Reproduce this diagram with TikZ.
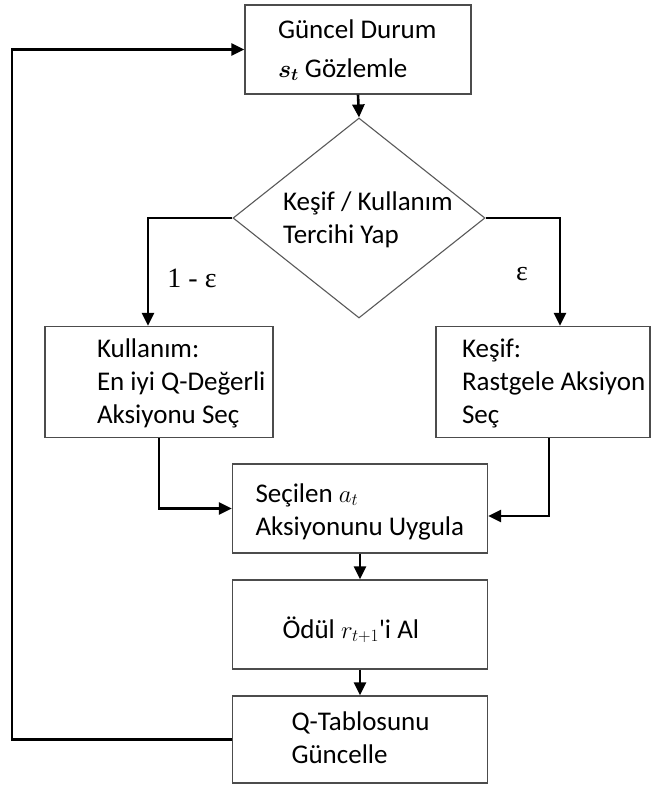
\documentclass[tikz,border=0pt]{standalone}
\usepackage{fontspec}
\setmainfont{Carlito}[Ligatures=TeXOff]
\newfontfamily\grkfont{Liberation Serif}
\usetikzlibrary{arrows.meta,shapes.geometric}

\tikzset{
  box/.style={rectangle, draw=black!70, line width=1.3pt, inner sep=0pt,
    align=left, font=\fontsize{27}{33}\selectfont},
  decide/.style={diamond, draw=black!65, line width=1.1pt, inner sep=0pt,
    aspect=1.26, align=left, font=\fontsize{27}{33}\selectfont},
  lpad/.style={execute at begin node={\leftskip=#1\rightskip=-60pt plus 1fil%
    \spaceskip=0pt\xspaceskip=0pt\relax}},
  textbox/.style 2 args={text height=#1, text depth=#2},
  flow/.style={->, line width=2.6pt},
  prob/.style={inner sep=0pt, font=\grkfont\fontsize{28}{30}\selectfont}
}

\begin{document}
\begin{tikzpicture}[x=1pt,y=-1pt,>={Triangle[length=13pt,width=12pt]}]
\useasboundingbox (0,0) rectangle (653,785);

% --- Kutular ---
\node[box, text width=226pt, minimum height=89pt, lpad=33pt, textbox={20pt}{43pt}] (observe) at (358,49.5)
  {Güncel Durum\\[6pt]{\boldmath$s_t$} Gözlemle};
\node[decide, text width=172pt, minimum width=252pt, minimum height=200pt, lpad=10pt, textbox={20pt}{36pt}]
  (choose) at (359,218) {Keşif / Kullanım\\Tercihi Yap};
\node[box, text width=228pt, minimum height=111pt, lpad=52pt, textbox={20pt}{70pt}] (exploit) at (159,382)
  {Kullanım:\\En iyi Q-Değerli\\Aksiyonu Seç};
\node[box, text width=214pt, minimum height=111pt, lpad=26pt, textbox={20pt}{70pt}] (explore) at (543,382)
  {Keşif:\\Rastgele Aksiyon\\Seç};
\node[box, text width=255pt, minimum height=89pt, lpad=23pt, textbox={20pt}{33pt}] (apply) at (360,508.5)
  {Seçilen $a_t$\\Aksiyonunu Uygula};
\node[box, text width=255pt, minimum height=89pt, lpad=50pt, textbox={27pt}{0pt}] (reward) at (360,624.5)
  {Ödül $r_{t+1}$'i Al};
\node[box, text width=255pt, minimum height=87pt, lpad=59pt, textbox={20pt}{39pt}] (update) at (360,739.5)
  {Q-Tablosunu\\Güncelle};

% --- Olasiliklar ---
\node[prob] (pexploit) at (192,278) {1 - ε};
\node[prob] (pexplore) at (522,274) {ε};

% --- Oklar ---
\draw[flow] (observe.south) -- (choose.north);
\draw[flow] (choose.west) -| ([xshift=-11pt]exploit.north);
\draw[flow] (choose.east) -| ([xshift=17pt]explore.north);
\draw[flow] (exploit.south) |- (apply.west);
\draw[flow] ([xshift=6pt]explore.south) |- ([yshift=-7.5pt]apply.east);
\draw[flow] (apply.south) -- (reward.north);
\draw[flow] (reward.south) -- (update.north);
\draw[flow] (update.west) -- ++(-220,0) |- (observe.west);

\end{tikzpicture}
\end{document}
